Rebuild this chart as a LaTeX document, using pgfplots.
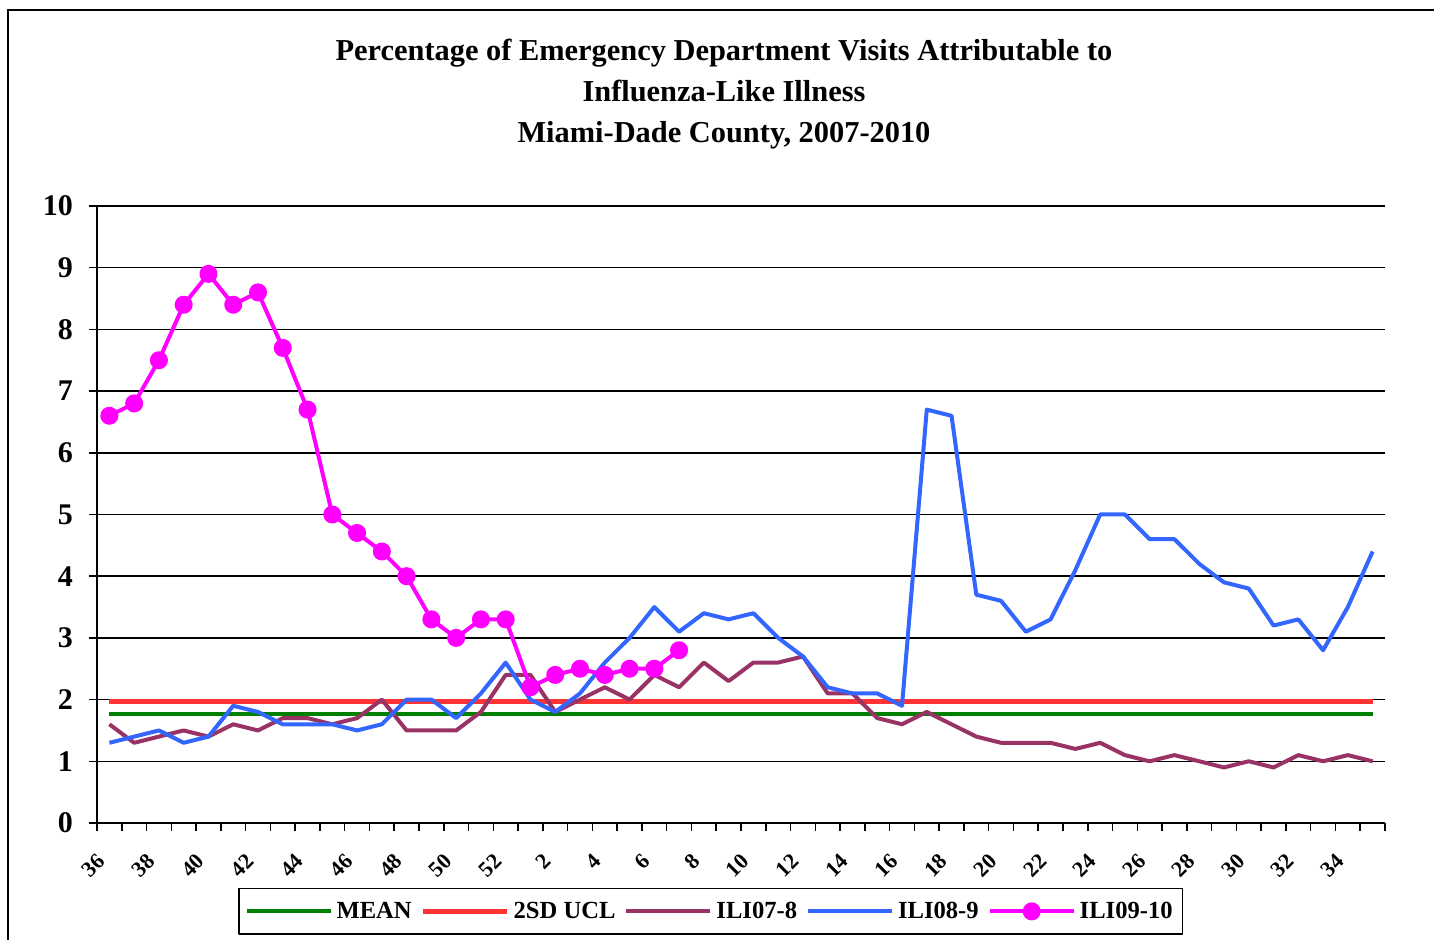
\documentclass[border=0pt]{standalone}
\usepackage{fontspec}
\setmainfont{Liberation Serif}
\usepackage{pgfplots}
\pgfplotsset{compat=1.18}
\usepackage{pgfplotstable}

\definecolor{meangreen}{HTML}{008000}
\definecolor{uclred}{HTML}{FF3333}
\definecolor{ilipurple}{HTML}{993366}
\definecolor{iliblue}{HTML}{3366FF}
\definecolor{ilimagenta}{HTML}{FF00FF}

% x index: 0 = week 36 ... 16 = week 52, 17 = week 1 ... 51 = week 35
\pgfplotstableread{
i v
0 1.77
51 1.77
}\meanline

\pgfplotstableread{
i v
0 1.97
51 1.97
}\uclline

\pgfplotstableread{
i v
0 1.6
1 1.3
2 1.4
3 1.5
4 1.4
5 1.6
6 1.5
7 1.7
8 1.7
9 1.6
10 1.7
11 2.0
12 1.5
13 1.5
14 1.5
15 1.8
16 2.4
17 2.4
18 1.8
19 2.0
20 2.2
21 2.0
22 2.4
23 2.2
24 2.6
25 2.3
26 2.6
27 2.6
28 2.7
29 2.1
30 2.1
31 1.7
32 1.6
33 1.8
34 1.6
35 1.4
36 1.3
37 1.3
38 1.3
39 1.2
40 1.3
41 1.1
42 1.0
43 1.1
44 1.0
45 0.9
46 1.0
47 0.9
48 1.1
49 1.0
50 1.1
51 1.0
}\iliseven

\pgfplotstableread{
i v
0 1.3
1 1.4
2 1.5
3 1.3
4 1.4
5 1.9
6 1.8
7 1.6
8 1.6
9 1.6
10 1.5
11 1.6
12 2.0
13 2.0
14 1.7
15 2.1
16 2.6
17 2.0
18 1.8
19 2.1
20 2.6
21 3.0
22 3.5
23 3.1
24 3.4
25 3.3
26 3.4
27 3.0
28 2.7
29 2.2
30 2.1
31 2.1
32 1.9
33 6.7
34 6.6
35 3.7
36 3.6
37 3.1
38 3.3
39 4.1
40 5.0
41 5.0
42 4.6
43 4.6
44 4.2
45 3.9
46 3.8
47 3.2
48 3.3
49 2.8
50 3.5
51 4.4
}\ilieight

\pgfplotstableread{
i v
0 6.6
1 6.8
2 7.5
3 8.4
4 8.9
5 8.4
6 8.6
7 7.7
8 6.7
9 5.0
10 4.7
11 4.4
12 4.0
13 3.3
14 3.0
15 3.3
16 3.3
17 2.2
18 2.4
19 2.5
20 2.4
21 2.5
22 2.5
23 2.8
}\ilinine

\begin{document}
\begin{tikzpicture}
\useasboundingbox (-48.5bp,-58.5bp) rectangle (668.5bp,411.5bp);
\draw[line width=0.6bp] (-44.5bp,-80bp) -- (-44.5bp,406.5bp) -- (700bp,406.5bp);
\node[align=center, font=\bfseries\fontsize{15.2bp}{20.5bp}\selectfont] at (313.5bp,364.5bp)
  {Percentage of Emergency Department Visits Attributable to\\Influenza-Like Illness\\Miami-Dade County, 2007-2010};
\begin{axis}[
  scale only axis, width=644bp, height=308.5bp,
  xmin=-0.5, xmax=51.5, ymin=0, ymax=10,
  axis lines=left, axis line style={-, line width=0.75bp},
  ytick={0,1,...,10}, ymajorgrids, grid style={black, line width=0.75bp},
  tick align=outside, tick style={black, line width=0.75bp}, major tick length=4bp,
  /pgf/number format/assume math mode=true,
  yticklabel style={font=\bfseries\fontsize{15bp}{15bp}\selectfont, xshift=-4.5bp},
  xtick={-0.5,0.5,...,51.5}, xticklabels={},
  extra x ticks={0,2,...,50},
  extra x tick labels={36,38,40,42,44,46,48,50,52,2,4,6,8,10,12,14,16,18,20,22,24,26,28,30,32,34},
  extra x tick style={major tick length=0pt},
  xticklabel style={xshift=-1.5bp, yshift=-15bp, rotate=45, anchor=east, font=\bfseries\fontsize{11bp}{11bp}\selectfont},
  legend columns=5,
  legend style={at={(axis description cs:0.1095,-0.1053)}, anchor=north west,
    draw=black, line width=0.75bp, inner ysep=4.5bp, font=\bfseries\fontsize{12.3bp}{14bp}\selectfont,
    /tikz/every even column/.append style={column sep=2.5bp}},
  legend image code/.code={\draw[mark repeat=2,mark phase=2,#1] plot coordinates {(0bp,0bp) (21bp,0bp) (42bp,0bp)};},
  line join=round,
]
\addplot[meangreen, line width=1.9bp] table[x=i,y=v] {\meanline};
\addlegendentry{MEAN}
\addplot[uclred, line width=2.5bp] table[x=i,y=v] {\uclline};
\addlegendentry{2SD UCL}
\addplot[ilipurple, line width=2bp] table[x=i,y=v] {\iliseven};
\addlegendentry{ILI07-8}
\addplot[iliblue, line width=2bp] table[x=i,y=v] {\ilieight};
\addlegendentry{ILI08-9}
\addplot[ilimagenta, line width=2bp, mark=*, mark size=3.5bp, mark options={fill=ilimagenta, draw=ilimagenta}] table[x=i,y=v] {\ilinine};
\addlegendentry{ILI09-10}
\end{axis}
\end{tikzpicture}
\end{document}
